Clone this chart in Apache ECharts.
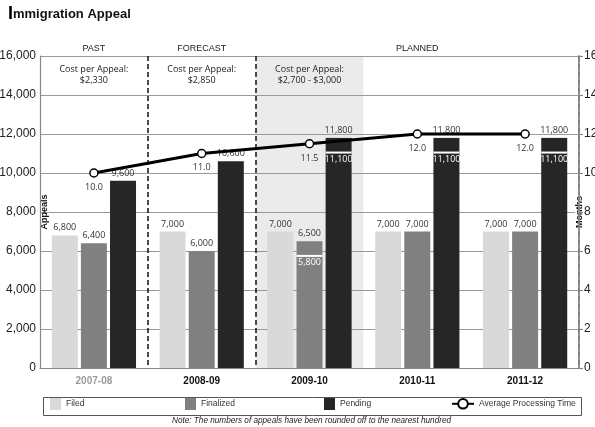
<!DOCTYPE html>
<html><head><meta charset="utf-8">
<script src="https://cdn.jsdelivr.net/npm/echarts@6/dist/echarts.min.js"></script>
<style>html,body{margin:0;padding:0;background:#fff}#c{width:595px;height:427px}</style>
</head><body><div id="c"></div>
<script>
const categories = ['2007-08', '2008-09', '2009-10', '2010-11', '2011-12'];
const periods = ['PAST', 'FORECAST', '', 'PLANNED', ''];
const costPerAppeal = ['$2,330', '$2,850', '$2,700 - $3,000', '', ''];
const shadedCategory = '2009-10';
const filed = [6800, 7000, 7000, 7000, 7000];
const finalizedBase = [6400, 6000, 5800, 7000, 7000];
const finalizedAdded = [0, 0, 700, 0, 0];
const pendingBase = [9600, 10600, 11100, 11100, 11100];
const pendingAdded = [0, 0, 700, 700, 700];
const avgProcessingMonths = [10.0, 11.0, 11.5, 12.0, 12.0];
const noteText = 'Note: The numbers of appeals have been rounded off to the nearest hundred';

const AR = 'Liberation Sans';
const NF = 'Open Sans';
const fmt = v => Number(v).toLocaleString('en-US');
const C_FILED = '#d9d9d9', C_FIN = '#808080', C_PEND = '#262626';

function baseData(base, added) {
  return base.map((v, i) => ({
    value: v,
    label: added[i] > 0
      ? { position: 'insideTop', color: '#fff', distance: 3 }
      : { position: 'top', color: '#333', distance: 3 }
  }));
}
function addedData(added) { return added.map(v => v > 0 ? v : '-'); }
const barLabel = { show: true, fontFamily: NF, fontSize: 9, formatter: p => fmt(p.value) };
const whiteSeam = { shadowColor: '#fff', shadowOffsetY: 2, shadowOffsetX: 0, shadowBlur: 0 };

const chart = echarts.init(document.getElementById('c'));
chart.setOption({
  animation: false,
  backgroundColor: '#fff',
  title: {
    text: '{i|I}{t|mmigration Appeal}', left: 3, top: 0,
    textStyle: { rich: {
      i: { fontSize: 18, fontWeight: 900, fontFamily: AR, color: '#000' },
      t: { fontSize: 13, fontFamily: AR, color: '#111' }
    } }
  },
  grid: { left: 40, right: 16, top: 56, bottom: 59, containLabel: false, outerBoundsMode: 'none' },
  xAxis: [
    {
      type: 'category', data: categories, boundaryGap: true,
      axisLine: { lineStyle: { color: '#888', width: 1.2 } },
      axisTick: { show: false },
      axisLabel: { fontFamily: AR, fontSize: 10, fontWeight: 'bold', margin: 8,
        color: (v, i) => i === 0 ? '#999' : '#111' },
      splitLine: { show: false }
    },
    {
      type: 'category', data: categories, boundaryGap: true, position: 'top',
      axisLine: { show: false }, axisTick: { show: false },
      axisLabel: { interval: 0, fontFamily: AR, fontSize: 9, color: '#222', margin: 3,
        formatter: (v, i) => periods[i] },
      splitLine: { show: true, interval: (i) => i === 1 || i === 2,
        lineStyle: { color: '#111', width: 1.5, type: [5, 3] } }
    }
  ],
  yAxis: [
    {
      type: 'value', min: 0, max: 16000, interval: 2000,
      name: 'Appeals', nameLocation: 'middle', nameRotate: 90, nameGap: -9, nameMoveOverlap: false,
      nameTextStyle: { fontFamily: AR, fontSize: 9, fontWeight: 'bold', color: '#111' },
      axisLine: { show: true, lineStyle: { color: '#888', width: 1.2 } },
      axisTick: { show: false },
      axisLabel: { fontFamily: AR, fontSize: 12, color: '#222', margin: 4,
        padding: [10, 0, 0, 0], formatter: v => fmt(v) },
      splitLine: { show: true, lineStyle: { color: '#999', width: 1.2 } }
    },
    {
      type: 'value', min: 0, max: 16, interval: 2, position: 'right', z: 1,
      name: 'Months', nameLocation: 'middle', nameRotate: 90, nameGap: -4, nameMoveOverlap: false,
      nameTextStyle: { fontFamily: AR, fontSize: 9, fontWeight: 'bold', color: '#111',
        backgroundColor: '#fff', padding: [0, 2, 0, 2] },
      axisLine: { show: true, lineStyle: { color: '#888', width: 1.8 } },
      axisTick: { show: true, length: 4, lineStyle: { color: '#888', width: 1.2 } },
      axisLabel: { fontFamily: AR, fontSize: 12, color: '#222', margin: 5,
        padding: [10, 0, 0, 0] },
      splitLine: { show: false }
    }
  ],
  legend: [
    { data: ['Filed'], left: 50, top: 398 },
    { data: ['Finalized'], left: 185, top: 398 },
    { data: ['Pending'], left: 324, top: 398 },
    { data: ['Average Processing Time'], left: 451, top: 398, itemWidth: 22, itemHeight: 12 }
  ].map(l => Object.assign({ icon: l.itemWidth ? undefined : 'rect', itemWidth: 11, itemHeight: 12,
    padding: 0, selectedMode: false,
    textStyle: { fontFamily: AR, fontSize: 8.5, color: '#333' } }, l)),
  graphic: [
    { type: 'rect', left: 41, top: 395, shape: { width: 538, height: 18 },
      style: { fill: 'none', stroke: '#555', lineWidth: 1 }, silent: true },
    { type: 'text', left: 172, top: 417, style: { text: noteText,
      font: 'italic 8.2px "Liberation Sans"', fill: '#222' } }
  ],
  series: [
    {
      name: 'shade', type: 'bar', xAxisIndex: 1, yAxisIndex: 0, z: -1, silent: true,
      barWidth: '100%',
      data: categories.map((c, i) => ({ value: 16000,
        itemStyle: { color: c === shadedCategory ? '#ebebeb' : 'rgba(0,0,0,0)' } })),
      label: { show: true, position: 'insideTop', distance: 8, fontFamily: NF, fontSize: 9,
        lineHeight: 11, color: '#222',
        formatter: p => costPerAppeal[p.dataIndex] ? 'Cost per Appeal:\n' + costPerAppeal[p.dataIndex] : '' }
    },
    {
      name: 'Filed', type: 'bar', barWidth: 26, barGap: '12%',
      itemStyle: { color: C_FILED }, data: filed,
      label: Object.assign({ position: 'top', color: '#333', distance: 3 }, barLabel)
    },
    {
      name: 'Finalized', type: 'bar', stack: 'fin', barWidth: 26, barGap: '12%',
      itemStyle: { color: C_FIN }, data: baseData(finalizedBase, finalizedAdded), label: barLabel
    },
    {
      name: 'Finalized', type: 'bar', stack: 'fin', barWidth: 26, barGap: '12%',
      itemStyle: Object.assign({ color: C_FIN }, whiteSeam),
      data: addedData(finalizedAdded),
      label: Object.assign({}, barLabel, { position: 'top', color: '#333', distance: 3,
        formatter: p => fmt(finalizedBase[p.dataIndex] + p.value) })
    },
    {
      name: 'Pending', type: 'bar', stack: 'pend', barWidth: 26, barGap: '12%',
      itemStyle: { color: C_PEND }, data: baseData(pendingBase, pendingAdded), label: barLabel
    },
    {
      name: 'Pending', type: 'bar', stack: 'pend', barWidth: 26, barGap: '12%',
      itemStyle: Object.assign({ color: C_PEND }, whiteSeam),
      data: addedData(pendingAdded),
      label: Object.assign({}, barLabel, { position: 'top', color: '#333', distance: 3,
        formatter: p => fmt(pendingBase[p.dataIndex] + p.value) })
    },
    {
      name: 'Average Processing Time', type: 'line', yAxisIndex: 1, z: 10,
      data: avgProcessingMonths,
      lineStyle: { color: '#000', width: 3 },
      symbol: 'circle', symbolSize: 8,
      itemStyle: { color: '#fff', borderColor: '#000', borderWidth: 1.5 },
      label: { show: true, position: 'bottom', distance: 5, fontFamily: NF, fontSize: 9,
        color: '#333', formatter: p => p.value.toFixed(1) }
    }
  ]
});
</script>
</body></html>
